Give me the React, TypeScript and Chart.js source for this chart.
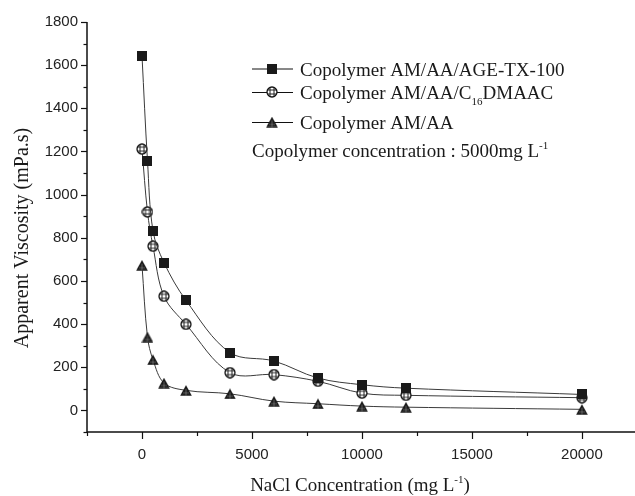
import React, { useEffect, useRef } from 'react';
import { Chart, registerables } from 'chart.js';

Chart.register(...registerables);

// ---- data ----
const naclConc = [0, 250, 500, 1000, 2000, 4000, 6000, 8000, 10000, 12000, 20000];
const viscAGE = [1644, 1157, 832, 685, 510, 268, 229, 150, 119, 103, 74];
const viscC16 = [1211, 920, 761, 529, 399, 175, 166, 135, 80, 70, 59];
const viscAMAA = [673, 340, 235, 127, 93, 77, 43, 31, 20, 15, 5];

const seriesLabels = [
  'Copolymer AM/AA/AGE-TX-100',
  'Copolymer AM/AA/C_{16}DMAAC',
  'Copolymer AM/AA',
];
const noteLabel = 'Copolymer concentration : 5000mg L^{-1}';
const xTitle = 'NaCl Concentration (mg L^{-1})';
const yTitle = 'Apparent Viscosity (mPa.s)';

const xTickValues = [0, 5000, 10000, 15000, 20000];
const yTickValues = [0, 200, 400, 600, 800, 1000, 1200, 1400, 1600, 1800];

const X_MIN = -2500;
const X_MAX = 22140;
const Y_MIN = -100;
const Y_MAX = 1800;

const SERIF = '"Liberation Serif", "Times New Roman", serif';
const SANS = '"Liberation Sans", Arial, sans-serif';

type Seg = { t: string; k: 'n' | 'sub' | 'sup' };
function parseRich(s: string): Seg[] {
  const out: Seg[] = [];
  const re = /([_^])\{([^}]*)\}/g;
  let last = 0;
  let m: RegExpExecArray | null;
  while ((m = re.exec(s))) {
    if (m.index > last) out.push({ t: s.slice(last, m.index), k: 'n' });
    out.push({ t: m[2], k: m[1] === '_' ? 'sub' : 'sup' });
    last = m.index + m[0].length;
  }
  if (last < s.length) out.push({ t: s.slice(last), k: 'n' });
  return out;
}

function richWidth(ctx: CanvasRenderingContext2D, s: string, size: number) {
  let w = 0;
  for (const seg of parseRich(s)) {
    ctx.font = `${seg.k === 'n' ? size : Math.round(size * 0.6)}px ${SERIF}`;
    w += ctx.measureText(seg.t).width;
  }
  return w;
}

function drawRich(ctx: CanvasRenderingContext2D, s: string, x: number, y: number, size: number) {
  ctx.textAlign = 'left';
  ctx.textBaseline = 'alphabetic';
  let cx = x;
  for (const seg of parseRich(s)) {
    const fs = seg.k === 'n' ? size : Math.round(size * 0.6);
    ctx.font = `${fs}px ${SERIF}`;
    const dy = seg.k === 'sub' ? size * 0.3 : seg.k === 'sup' ? -size * 0.42 : 0;
    ctx.fillText(seg.t, cx, y + dy);
    cx += ctx.measureText(seg.t).width;
  }
}

function makeSquare() {
  const c = document.createElement('canvas');
  c.width = 10; c.height = 10;
  const g = c.getContext('2d')!;
  g.fillStyle = '#1a1a1a';
  g.fillRect(0, 0, 10, 10);
  return c;
}
function makeCircle() {
  const c = document.createElement('canvas');
  c.width = 12; c.height = 12;
  const g = c.getContext('2d')!;
  g.beginPath();
  g.arc(6, 6, 5, 0, Math.PI * 2);
  g.fillStyle = '#fff';
  g.fill();
  g.save();
  g.clip();
  g.strokeStyle = '#222';
  g.lineWidth = 1;
  for (const p of [4, 8]) {
    g.beginPath(); g.moveTo(p, 0); g.lineTo(p, 12); g.stroke();
    g.beginPath(); g.moveTo(0, p); g.lineTo(12, p); g.stroke();
  }
  g.restore();
  g.beginPath();
  g.arc(6, 6, 5, 0, Math.PI * 2);
  g.strokeStyle = '#111';
  g.lineWidth = 1.3;
  g.stroke();
  return c;
}
function makeTriangle() {
  const c = document.createElement('canvas');
  c.width = 12; c.height = 11;
  const g = c.getContext('2d')!;
  g.beginPath();
  g.moveTo(6, 0.3);
  g.lineTo(11.8, 10.8);
  g.lineTo(0.2, 10.8);
  g.closePath();
  g.fillStyle = '#1a1a1a';
  g.fill();
  g.strokeStyle = 'rgba(255,255,255,0.35)';
  g.lineWidth = 0.8;
  g.beginPath(); g.moveTo(6, 4); g.lineTo(6, 10.5); g.stroke();
  g.beginPath(); g.moveTo(3, 8); g.lineTo(9, 8); g.stroke();
  return c;
}

export default function App() {
  const ref = useRef<HTMLCanvasElement | null>(null);

  useEffect(() => {
    document.body.style.margin = '0';
    const canvas = ref.current;
    if (!canvas) return;
    const markers = [makeSquare(), makeCircle(), makeTriangle()];
    const series = [viscAGE, viscC16, viscAMAA];

    const overlay = {
      id: 'overlay',
      afterDraw(chart: any) {
        const ctx: CanvasRenderingContext2D = chart.ctx;
        const { left, bottom } = chart.chartArea;
        const xs = chart.scales.x;
        const ys = chart.scales.y;
        ctx.save();
        ctx.strokeStyle = '#111';
        ctx.lineWidth = 1.2;
        // y tick marks (major + minor)
        for (let v = Y_MIN; v <= Y_MAX; v += 100) {
          const p = Math.round(ys.getPixelForValue(v)) + 0.5;
          const len = v % 200 === 0 ? 6 : 3.5;
          ctx.beginPath(); ctx.moveTo(left - len, p); ctx.lineTo(left, p); ctx.stroke();
        }
        // x tick marks
        for (let v = X_MIN; v <= X_MAX; v += 2500) {
          const p = Math.round(xs.getPixelForValue(v)) + 0.5;
          const len = v % 5000 === 0 ? 7 : 4;
          ctx.beginPath(); ctx.moveTo(p, bottom); ctx.lineTo(p, bottom + len); ctx.stroke();
        }
        // axis lines (x axis runs on to the picture's edge)
        ctx.lineWidth = 1.5;
        ctx.beginPath();
        ctx.moveTo(left, chart.chartArea.top);
        ctx.lineTo(left, bottom);
        ctx.lineTo(chart.width, bottom);
        ctx.stroke();

        ctx.fillStyle = '#1a1a1a';
        // axis titles
        const tsize = 19;
        const xw = richWidth(ctx, xTitle, tsize);
        drawRich(ctx, xTitle, 360 - xw / 2, 491, tsize);
        ctx.save();
        ctx.translate(28, 238);
        ctx.rotate(-Math.PI / 2);
        const ysize = 20;
        const yw = richWidth(ctx, yTitle, ysize);
        drawRich(ctx, yTitle, -yw / 2, 0, ysize);
        ctx.restore();

        // legend
        const rows = [68.5, 92, 122];
        const bases = [76, 99, 129];
        ctx.strokeStyle = '#111';
        ctx.lineWidth = 1;
        for (let i = 0; i < 3; i++) {
          ctx.beginPath();
          ctx.moveTo(252, rows[i] + 0.5);
          ctx.lineTo(293, rows[i] + 0.5);
          ctx.stroke();
          const m = markers[i];
          ctx.drawImage(m, 272 - m.width / 2, rows[i] - m.height / 2);
          ctx.fillStyle = '#1a1a1a';
          drawRich(ctx, seriesLabels[i], 300, bases[i], tsize);
        }
        drawRich(ctx, noteLabel, 252, 157, tsize);
        ctx.restore();
      },
    };

    const chart = new Chart(canvas, {
      type: 'line',
      data: {
        datasets: series.map((vals, i) => ({
          label: seriesLabels[i],
          data: naclConc.map((x, j) => ({ x, y: vals[j] })),
          borderColor: '#3a3a3a',
          borderWidth: 1,
          pointStyle: markers[i] as any,
          pointRadius: 5,
          tension: 0.35,
          fill: false,
        })),
      },
      options: {
        animation: false,
        responsive: false,
        devicePixelRatio: 1,
        layout: { padding: { top: 22, right: 0, left: 0, bottom: 0 } },
        plugins: { legend: { display: false }, tooltip: { enabled: false } },
        scales: {
          x: {
            type: 'linear',
            min: X_MIN,
            max: X_MAX,
            afterBuildTicks: (s: any) => {
              s.ticks = xTickValues.map((v) => ({ value: v }));
            },
            afterFit: (s: any) => {
              s.height = 64;
            },
            grid: { display: false, drawTicks: false },
            border: { display: false },
            ticks: {
              padding: 14,
              color: '#222',
              font: { family: SANS, size: 15 },
              maxRotation: 0,
              autoSkip: false,
              callback: (v: any) => String(v),
            },
          },
          y: {
            type: 'linear',
            min: Y_MIN,
            max: Y_MAX,
            afterBuildTicks: (s: any) => {
              s.ticks = yTickValues.map((v) => ({ value: v }));
            },
            afterFit: (s: any) => {
              s.width = 87;
            },
            grid: { display: false, drawTicks: false },
            border: { display: false },
            ticks: {
              padding: 9,
              color: '#222',
              font: { family: SANS, size: 15 },
              autoSkip: false,
              callback: (v: any) => String(v),
            },
          },
        },
      },
      plugins: [overlay],
    });
    return () => chart.destroy();
  }, []);

  return (
    <canvas
      ref={ref}
      width={635}
      height={496}
      style={{ display: 'block', width: 635, height: 496 }}
    />
  );
}
